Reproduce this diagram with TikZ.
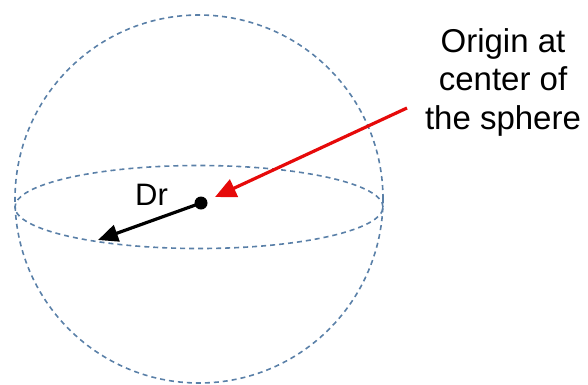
\documentclass[tikz,border=0pt]{standalone}
\usepackage{fontspec}
\setmainfont{Liberation Sans}
\usetikzlibrary{arrows.meta}
\definecolor{sphereblue}{RGB}{90,128,168}
\definecolor{arrowred}{RGB}{230,10,10}
\tikzset{
  outline/.style={draw=sphereblue, line width=1.6pt, dash pattern=on 5pt off 4pt},
  lbl/.style={font=\fontsize{33}{38.5}\selectfont, align=center, inner sep=0pt},
  dotnode/.style={circle, fill=black, inner sep=0pt, minimum size=13pt},
}
\begin{document}
\begin{tikzpicture}[x=1pt,y=1pt]
\useasboundingbox (0,0) rectangle (588,-384);
\draw[outline] (199,-199) circle (184);
\draw[outline] (199,-207) ellipse [x radius=184, y radius=41.5];
\node[dotnode] (dot) at (201,-203) {};
\coordinate (drtip) at (98,-240);
\draw[line width=3.2pt, -{Triangle[length=20pt,width=17pt]}] (dot.center) -- (drtip);
\node[lbl, font=\fontsize{31}{36}\selectfont] (dr) at (151.5,-195) {Dr};
\coordinate (redstart) at (407,-108);
\coordinate (redtip) at (215,-197);
\draw[arrowred, line width=3.2pt, -{Triangle[length=21pt,width=19pt]}] (redstart) -- (redtip);
\node[lbl] (origin) at (503,-82) {Origin at\\center of\\the sphere};
\end{tikzpicture}
\end{document}
